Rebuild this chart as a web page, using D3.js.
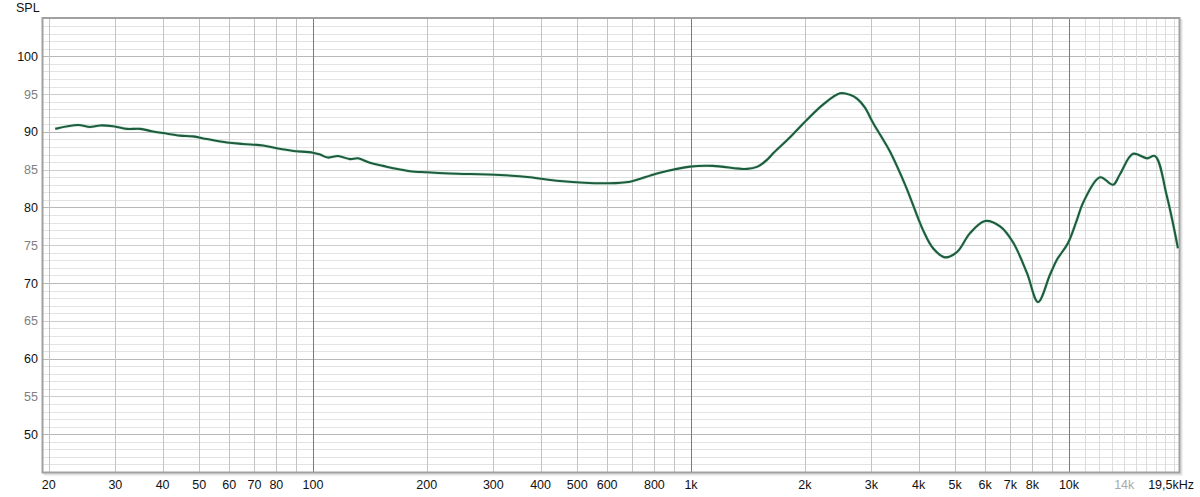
<!DOCTYPE html>
<html><head><meta charset="utf-8">
<script src="https://cdn.jsdelivr.net/npm/d3@7"></script>
<style>
html,body{margin:0;padding:0;background:#fff;}
svg{display:block;font-family:"Liberation Sans",Arial,sans-serif;}
</style></head>
<body><svg id="c" width="1200" height="497"></svg>
<script>
// Data
const freqs = [20.8,23.9,25.7,27.3,29.6,32.2,34.9,37.7,40.1,44.5,48.1,52.4,59.2,65.3,73.8,80.8,88,100,104.4,109.6,116.4,125.3,131.5,141.5,153.2,162.7,180.5,200,230,312,375,450,600,690,813,994,1143,1407,1500,1580,1660,1828,2027,2235,2479,2635,2749,2886,3030,3360,3700,4110,4369,4699,5055,5472,5995,6570,7110,7743,8280,8906,9296,9940,10500,10890,12080,13080,13640,14770,16080,16890,18170,19420];
const spl = [90.4,90.9,90.65,90.85,90.75,90.4,90.4,90.05,89.85,89.5,89.4,89.05,88.6,88.4,88.2,87.8,87.5,87.25,87.0,86.6,86.8,86.4,86.5,85.9,85.5,85.2,84.8,84.65,84.5,84.3,84.0,83.5,83.2,83.4,84.5,85.4,85.5,85.1,85.4,86.2,87.3,89.3,91.6,93.6,95.1,94.9,94.4,93.2,91.2,87.4,82.8,77.0,74.6,73.4,74.1,76.6,78.2,77.5,75.4,71.3,67.5,71.1,73.1,75.3,78.4,80.6,84.0,83.0,84.4,87.1,86.5,86.8,81.4,74.6];
const xTickVals = [20,30,40,50,60,70,80,100,200,300,400,500,600,800,1000,2000,3000,4000,5000,6000,7000,8000,10000,14000,19500];
const xTickLabels = ["20","30","40","50","60","70","80","100","200","300","400","500","600","800","1k","2k","3k","4k","5k","6k","7k","8k","10k","14k","19,5kHz"];
const yTickVals = [50,55,60,65,70,75,80,85,90,95,100];
const yTickLabels = ["50","55","60","65","70","75","80","85","90","95","100"];

const svg = d3.select("#c");
const L = 43, R = 1179, T = 18.5, B = 472;
// log scale: 100 Hz -> 313, 10 kHz -> 1069
const x = d3.scaleLog().domain([100, 10000]).range([313, 1069]);
const y = d3.scaleLinear().domain([45, 105]).range([B, T]);
const fMin = x.invert(L), fMax = x.invert(R);

// shadow frame
svg.append("rect").attr("x", L+2).attr("y", T+2).attr("width", R-L).attr("height", B-T)
  .attr("fill", "none").attr("stroke", "#e2e2e2").attr("stroke-width", 3);
svg.append("rect").attr("x", L).attr("y", T).attr("width", R-L).attr("height", B-T).attr("fill", "#fff");

const g = svg.append("g");
// horizontal minor grid every 1 dB
for (let v = 46; v <= 104; v++) {
  let col = "#e3e3e3";
  if (v % 10 === 0) col = "#b8b8b8"; else if (v % 5 === 0) col = "#cdcdcd";
  g.append("line").attr("x1", L).attr("x2", R).attr("y1", Math.round(y(v))+0.5).attr("y2", Math.round(y(v))+0.5)
    .attr("stroke", col).attr("stroke-width", 1);
}
// vertical grid
const vLines = [];
for (let d = 10; d <= 10000; d *= 10) for (let m = 1; m <= 9; m++) vLines.push(d*m);
for (let f = 11000; f <= 19000; f += 1000) vLines.push(f);
vLines.filter(f => f > fMin && f < fMax).forEach(f => {
  let col = "#c4c4c4";
  if (f === 100 || f === 1000 || f === 10000) col = "#7a7a7a";
  else if (f > 10000) col = "#dcdcdc";
  g.append("line").attr("x1", Math.round(x(f))+0.5).attr("x2", Math.round(x(f))+0.5).attr("y1", T).attr("y2", B)
    .attr("stroke", col).attr("stroke-width", 1);
});

// frame
svg.append("rect").attr("x", L-0.5).attr("y", T-0.5).attr("width", R-L+1).attr("height", B-T+1)
  .attr("fill", "none").attr("stroke", "#a0a0a0").attr("stroke-width", 2);

// curve
const pts = freqs.map((f, i) => [f, spl[i]]);
const line = d3.line().x(d => x(d[0])).y(d => y(d[1])).curve(d3.curveCatmullRom.alpha(0.5));
svg.append("path").attr("d", line(pts)).attr("fill", "none")
  .attr("stroke", "#bfe6cf").attr("stroke-width", 3.4).attr("stroke-opacity", 0.6);
svg.append("path").attr("d", line(pts)).attr("fill", "none")
  .attr("stroke", "#1d5c3e").attr("stroke-width", 2.1).attr("stroke-linejoin", "round");

// y labels
yTickVals.forEach((v, i) => {
  svg.append("text").attr("x", 38).attr("y", y(v)).attr("dy", "0.36em")
    .attr("text-anchor", "end").attr("font-size", 12.5)
    .attr("fill", v % 10 === 0 ? "#111" : "#808080").text(yTickLabels[i]);
});
svg.append("text").attr("x", 16).attr("y", 12).attr("font-size", 12.5).attr("fill", "#111").text("SPL");

// x labels
xTickVals.forEach((f, i) => {
  const last = i === xTickVals.length - 1;
  svg.append("text").attr("x", last ? 1194 : x(f)).attr("y", 489)
    .attr("text-anchor", last ? "end" : "middle").attr("font-size", 12.5)
    .attr("fill", f === 14000 ? "#a8a8a8" : "#111").text(xTickLabels[i]);
});
</script></body></html>
